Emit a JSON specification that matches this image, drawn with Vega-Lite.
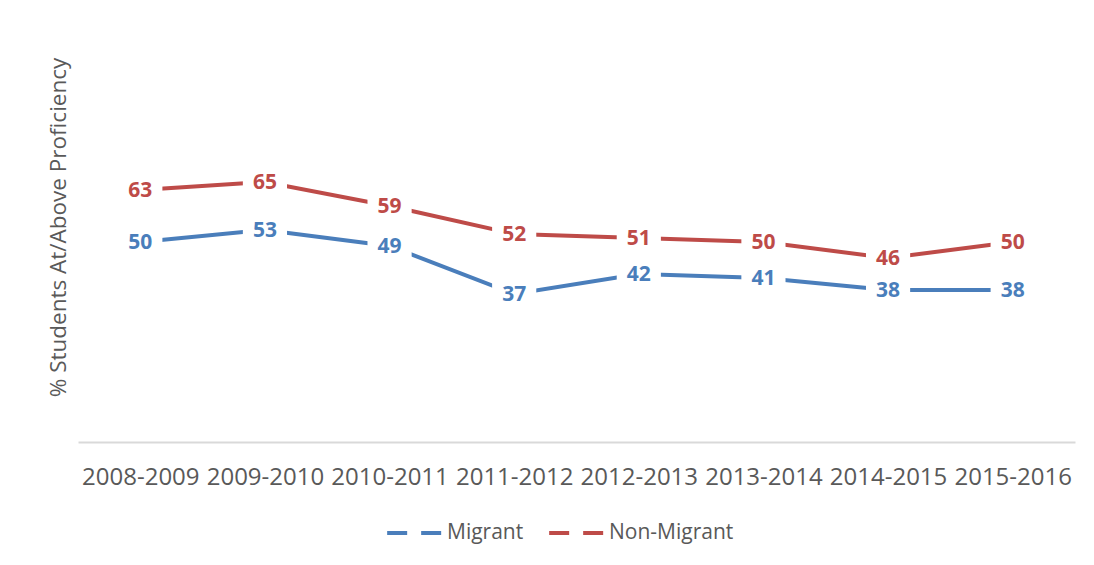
{
  "$schema": "https://vega.github.io/schema/vega-lite/v6.json",
  "width": 997,
  "height": 400,
  "autosize": {"type": "none"},
  "padding": {"left": 78, "top": 42, "right": 19, "bottom": 123},
  "background": "white",
  "config": {
    "view": {"stroke": null},
    "font": "Open Sans"
  },
  "data": {
    "values": [
      {"year": "2008-2009", "series": "Migrant", "value": 50},
      {"year": "2009-2010", "series": "Migrant", "value": 53},
      {"year": "2010-2011", "series": "Migrant", "value": 49},
      {"year": "2011-2012", "series": "Migrant", "value": 37},
      {"year": "2012-2013", "series": "Migrant", "value": 42},
      {"year": "2013-2014", "series": "Migrant", "value": 41},
      {"year": "2014-2015", "series": "Migrant", "value": 38},
      {"year": "2015-2016", "series": "Migrant", "value": 38},
      {"year": "2008-2009", "series": "Non-Migrant", "value": 63},
      {"year": "2009-2010", "series": "Non-Migrant", "value": 65},
      {"year": "2010-2011", "series": "Non-Migrant", "value": 59},
      {"year": "2011-2012", "series": "Non-Migrant", "value": 52},
      {"year": "2012-2013", "series": "Non-Migrant", "value": 51},
      {"year": "2013-2014", "series": "Non-Migrant", "value": 50},
      {"year": "2014-2015", "series": "Non-Migrant", "value": 46},
      {"year": "2015-2016", "series": "Non-Migrant", "value": 50}
    ]
  },
  "encoding": {
    "x": {
      "field": "year",
      "type": "ordinal",
      "scale": {"type": "point", "padding": 0.5},
      "axis": {
        "title": null,
        "labelAngle": 0,
        "labelFont": "Open Sans",
        "labelFontSize": 24,
        "labelColor": "#595959",
        "labelPadding": 23,
        "ticks": false,
        "domainColor": "#d9d9d9",
        "domainWidth": 2,
        "grid": false
      }
    },
    "y": {
      "field": "value",
      "type": "quantitative",
      "scale": {"domain": [0, 100]},
      "axis": {
        "title": "% Students At/Above Proficiency",
        "titleFont": "Open Sans",
        "titleFontSize": 22.5,
        "titleFontWeight": "normal",
        "titleColor": "#595959",
        "titlePadding": 8,
        "titleY": 185,
        "labels": false,
        "ticks": false,
        "domain": false,
        "grid": false
      }
    },
    "color": {
      "field": "series",
      "type": "nominal",
      "scale": {"domain": ["Migrant", "Non-Migrant"], "range": ["#4a7ebb", "#be4b48"]},
      "legend": {
        "title": null,
        "orient": "none",
        "legendX": 307,
        "legendY": 461,
        "direction": "horizontal",
        "labelFont": "Open Sans",
        "labelFontSize": 21,
        "labelColor": "#595959",
        "symbolType": "stroke",
        "symbolSize": 3100,
        "symbolStrokeWidth": 4,
        "symbolDash": [20, 14],
        "columnPadding": 17,
        "labelOffset": 2
      }
    }
  },
  "layer": [
    {"mark": {"type": "line", "strokeWidth": 4}},
    {
      "mark": {
        "type": "point",
        "shape": "M-1,-0.68H1V0.68H-1Z",
        "filled": true,
        "fill": "white",
        "opacity": 1,
        "size": 1950
      },
      "encoding": {"color": {"value": "white"}}
    },
    {
      "mark": {
        "type": "text",
        "font": "Open Sans",
        "fontSize": 21,
        "fontWeight": "bold",
        "baseline": "middle",
        "dy": 1
      },
      "encoding": {"text": {"field": "value", "type": "quantitative"}}
    }
  ]
}
